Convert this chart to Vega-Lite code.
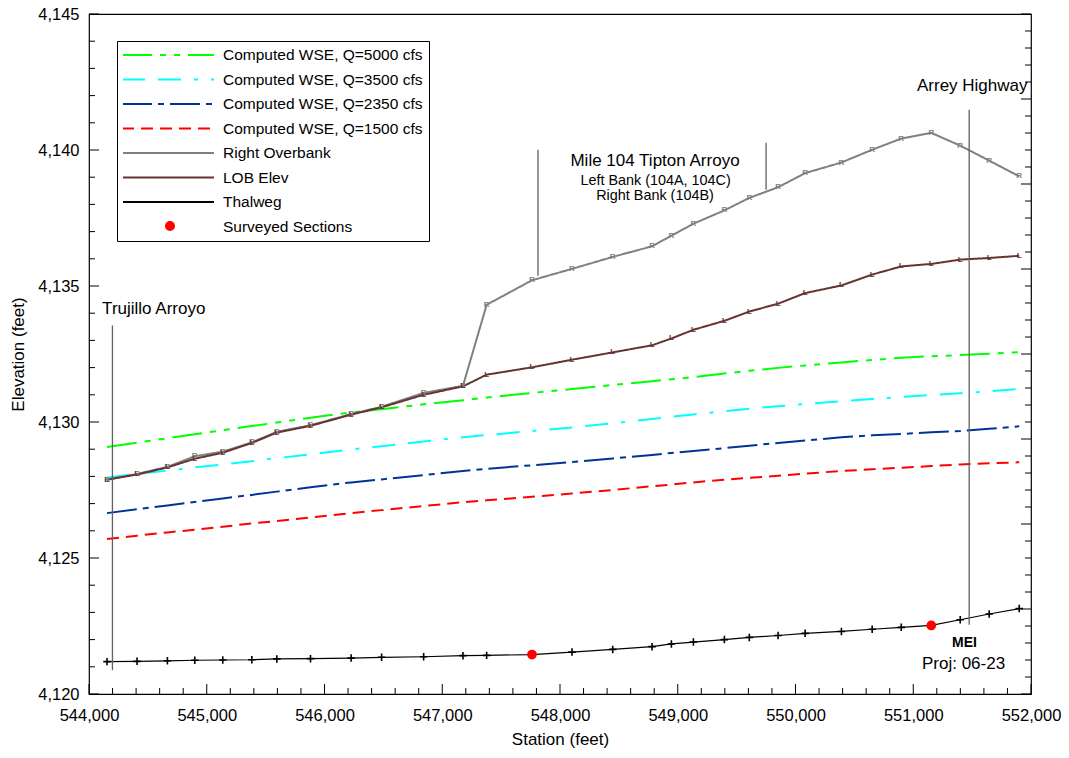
{
  "$schema": "https://vega.github.io/schema/vega-lite/v6.json",
  "width": 942,
  "height": 680,
  "autosize": "none",
  "padding": {"left": 89, "top": 14, "right": 38, "bottom": 64},
  "background": "white",
  "config": {
    "view": {"stroke": "black", "strokeWidth": 1.2},
    "font": "Liberation Sans",
    "axis": {
      "labelFont": "Liberation Sans", "labelFontSize": 16.5, "labelColor": "black",
      "titleFont": "Liberation Sans", "titleFontSize": 17, "titleFontWeight": "normal", "titleColor": "black",
      "domainColor": "black", "grid": false,
      "labelFlush": false, "labelOverlap": false
    }
  },
  "datasets": {
    "stations": [
      {"station": 544153, "q5000": 4129.08, "q3500": 4127.96, "q2350": 4126.65, "q1500": 4125.70, "rob": 4127.88, "lob": 4127.88, "thalweg": 4121.19},
      {"station": 544408, "q5000": 4129.24, "q3500": 4128.09, "q2350": 4126.79, "q1500": 4125.82, "rob": 4128.09, "lob": 4128.07, "thalweg": 4121.20},
      {"station": 544666, "q5000": 4129.40, "q3500": 4128.21, "q2350": 4126.93, "q1500": 4125.94, "rob": 4128.35, "lob": 4128.33, "thalweg": 4121.22},
      {"station": 544898, "q5000": 4129.55, "q3500": 4128.33, "q2350": 4127.06, "q1500": 4126.04, "rob": 4128.74, "lob": 4128.65, "thalweg": 4121.24},
      {"station": 545136, "q5000": 4129.70, "q3500": 4128.44, "q2350": 4127.19, "q1500": 4126.15, "rob": 4128.91, "lob": 4128.87, "thalweg": 4121.25},
      {"station": 545383, "q5000": 4129.85, "q3500": 4128.56, "q2350": 4127.32, "q1500": 4126.27, "rob": 4129.25, "lob": 4129.23, "thalweg": 4121.26},
      {"station": 545595, "q5000": 4129.98, "q3500": 4128.67, "q2350": 4127.44, "q1500": 4126.36, "rob": 4129.64, "lob": 4129.61, "thalweg": 4121.29},
      {"station": 545881, "q5000": 4130.16, "q3500": 4128.81, "q2350": 4127.60, "q1500": 4126.49, "rob": 4129.88, "lob": 4129.86, "thalweg": 4121.30},
      {"station": 546226, "q5000": 4130.35, "q3500": 4128.99, "q2350": 4127.78, "q1500": 4126.65, "rob": 4130.29, "lob": 4130.27, "thalweg": 4121.32},
      {"station": 546485, "q5000": 4130.47, "q3500": 4129.11, "q2350": 4127.89, "q1500": 4126.76, "rob": 4130.56, "lob": 4130.54, "thalweg": 4121.35},
      {"station": 546842, "q5000": 4130.65, "q3500": 4129.28, "q2350": 4128.05, "q1500": 4126.91, "rob": 4131.07, "lob": 4131.00, "thalweg": 4121.37},
      {"station": 547176, "q5000": 4130.80, "q3500": 4129.44, "q2350": 4128.20, "q1500": 4127.05, "rob": 4131.33, "lob": 4131.31, "thalweg": 4121.41},
      {"station": 547377, "q5000": 4130.90, "q3500": 4129.52, "q2350": 4128.28, "q1500": 4127.12, "rob": 4134.31, "lob": 4131.74, "thalweg": 4121.42},
      {"station": 547762, "q5000": 4131.07, "q3500": 4129.67, "q2350": 4128.41, "q1500": 4127.25, "rob": 4135.21, "lob": 4132.01, "thalweg": 4121.45},
      {"station": 548102, "q5000": 4131.21, "q3500": 4129.80, "q2350": 4128.53, "q1500": 4127.37, "rob": 4135.63, "lob": 4132.29, "thalweg": 4121.54},
      {"station": 548448, "q5000": 4131.36, "q3500": 4129.95, "q2350": 4128.66, "q1500": 4127.50, "rob": 4136.07, "lob": 4132.56, "thalweg": 4121.64},
      {"station": 548782, "q5000": 4131.50, "q3500": 4130.11, "q2350": 4128.79, "q1500": 4127.64, "rob": 4136.46, "lob": 4132.82, "thalweg": 4121.74},
      {"station": 548946, "q5000": 4131.57, "q3500": 4130.19, "q2350": 4128.86, "q1500": 4127.70, "rob": 4136.85, "lob": 4133.07, "thalweg": 4121.84},
      {"station": 549133, "q5000": 4131.65, "q3500": 4130.28, "q2350": 4128.93, "q1500": 4127.78, "rob": 4137.29, "lob": 4133.39, "thalweg": 4121.91},
      {"station": 549396, "q5000": 4131.78, "q3500": 4130.40, "q2350": 4129.04, "q1500": 4127.88, "rob": 4137.78, "lob": 4133.72, "thalweg": 4122.00},
      {"station": 549608, "q5000": 4131.88, "q3500": 4130.49, "q2350": 4129.13, "q1500": 4127.95, "rob": 4138.24, "lob": 4134.06, "thalweg": 4122.08},
      {"station": 549852, "q5000": 4131.99, "q3500": 4130.58, "q2350": 4129.23, "q1500": 4128.02, "rob": 4138.63, "lob": 4134.35, "thalweg": 4122.15},
      {"station": 550082, "q5000": 4132.08, "q3500": 4130.66, "q2350": 4129.32, "q1500": 4128.10, "rob": 4139.15, "lob": 4134.74, "thalweg": 4122.23},
      {"station": 550390, "q5000": 4132.19, "q3500": 4130.76, "q2350": 4129.44, "q1500": 4128.20, "rob": 4139.54, "lob": 4135.02, "thalweg": 4122.30},
      {"station": 550651, "q5000": 4132.28, "q3500": 4130.85, "q2350": 4129.51, "q1500": 4128.26, "rob": 4140.01, "lob": 4135.42, "thalweg": 4122.38},
      {"station": 550898, "q5000": 4132.36, "q3500": 4130.92, "q2350": 4129.56, "q1500": 4128.32, "rob": 4140.42, "lob": 4135.72, "thalweg": 4122.45},
      {"station": 551153, "q5000": 4132.42, "q3500": 4130.99, "q2350": 4129.62, "q1500": 4128.38, "rob": 4140.63, "lob": 4135.81, "thalweg": 4122.52},
      {"station": 551399, "q5000": 4132.46, "q3500": 4131.06, "q2350": 4129.67, "q1500": 4128.44, "rob": 4140.16, "lob": 4135.97, "thalweg": 4122.73},
      {"station": 551645, "q5000": 4132.51, "q3500": 4131.13, "q2350": 4129.75, "q1500": 4128.48, "rob": 4139.61, "lob": 4136.03, "thalweg": 4122.94},
      {"station": 551900, "q5000": 4132.57, "q3500": 4131.21, "q2350": 4129.84, "q1500": 4128.52, "rob": 4139.03, "lob": 4136.11, "thalweg": 4123.14}
    ],
    "surveyed": [
      {"station": 547762, "elev": 4121.45, "kind": "surveyed"},
      {"station": 551153, "elev": 4122.52, "kind": "surveyed"}
    ],
    "callouts": [
      {"station": 544199, "top": 4133.55, "bottom": 4120.87},
      {"station": 547813, "top": 4140.01, "bottom": 4135.38},
      {"station": 549750, "top": 4140.27, "bottom": 4138.54},
      {"station": 551475, "top": 4141.48, "bottom": 4122.55}
    ],
    "notesLarge": [
      {"station": 544550, "elev": 4134.17, "note": "Trujillo Arroyo"},
      {"station": 548807, "elev": 4139.61, "note": "Mile 104 Tipton Arroyo"},
      {"station": 551501, "elev": 4142.36, "note": "Arrey Highway"},
      {"station": 551427, "elev": 4121.11, "note": "Proj: 06-23"}
    ],
    "notesSmall": [
      {"station": 548812, "elev": 4138.87, "note": "Left Bank (104A, 104C)"},
      {"station": 548807, "elev": 4138.30, "note": "Right Bank (104B)"}
    ],
    "logo": [
      {"station": 551435, "elev": 4121.88, "note": "MEI"}
    ],
    "leftMajorTicks": [{"v": 4120}, {"v": 4125}, {"v": 4130}, {"v": 4135}, {"v": 4140}, {"v": 4145}],
    "leftMinorTicks": [{"v": 4121}, {"v": 4122}, {"v": 4123}, {"v": 4124}, {"v": 4126}, {"v": 4127}, {"v": 4128}, {"v": 4129}, {"v": 4131}, {"v": 4132}, {"v": 4133}, {"v": 4134}, {"v": 4136}, {"v": 4137}, {"v": 4138}, {"v": 4139}, {"v": 4141}, {"v": 4142}, {"v": 4143}, {"v": 4144}],
    "rightMajorTicks": [{"v": 4120}, {"v": 4123.125}, {"v": 4126.25}, {"v": 4129.375}, {"v": 4132.5}, {"v": 4135.625}, {"v": 4138.75}, {"v": 4141.875}, {"v": 4145}],
    "rightMinorTicks": [{"v": 4120.625}, {"v": 4121.25}, {"v": 4121.875}, {"v": 4122.5}, {"v": 4123.75}, {"v": 4124.375}, {"v": 4125}, {"v": 4125.625}, {"v": 4126.875}, {"v": 4127.5}, {"v": 4128.125}, {"v": 4128.75}, {"v": 4130}, {"v": 4130.625}, {"v": 4131.25}, {"v": 4131.875}, {"v": 4133.125}, {"v": 4133.75}, {"v": 4134.375}, {"v": 4135}, {"v": 4136.25}, {"v": 4136.875}, {"v": 4137.5}, {"v": 4138.125}, {"v": 4139.375}, {"v": 4140}, {"v": 4140.625}, {"v": 4141.25}, {"v": 4142.5}, {"v": 4143.125}, {"v": 4143.75}, {"v": 4144.375}],
    "bottomMajorTicks": [{"v": 544000}, {"v": 545000}, {"v": 546000}, {"v": 547000}, {"v": 548000}, {"v": 549000}, {"v": 550000}, {"v": 551000}, {"v": 552000}],
    "bottomMinorTicks": [{"v": 544200}, {"v": 544400}, {"v": 544600}, {"v": 544800}, {"v": 545200}, {"v": 545400}, {"v": 545600}, {"v": 545800}, {"v": 546200}, {"v": 546400}, {"v": 546600}, {"v": 546800}, {"v": 547200}, {"v": 547400}, {"v": 547600}, {"v": 547800}, {"v": 548200}, {"v": 548400}, {"v": 548600}, {"v": 548800}, {"v": 549200}, {"v": 549400}, {"v": 549600}, {"v": 549800}, {"v": 550200}, {"v": 550400}, {"v": 550600}, {"v": 550800}, {"v": 551200}, {"v": 551400}, {"v": 551600}, {"v": 551800}]
  },
  "resolve": {"axis": {"x": "independent", "y": "independent"}},
  "layer": [
    {
      "data": {"name": "stations"},
      "transform": [{"fold": ["q5000", "q3500", "q2350", "q1500", "rob", "lob"], "as": ["series", "elev"]}],
      "mark": {"type": "line", "strokeWidth": 2},
      "encoding": {
        "x": {"field": "station", "type": "quantitative", "scale": {"domain": [544000, 552000], "nice": false, "zero": false},
          "axis": {"orient": "bottom", "values": [544000, 545000, 546000, 547000, 548000, 549000, 550000, 551000, 552000], "format": ",d", "ticks": false, "domain": false, "labelPadding": 13, "title": "Station (feet)", "titlePadding": 8}},
        "y": {"field": "elev", "type": "quantitative", "scale": {"domain": [4120, 4145], "nice": false, "zero": false},
          "axis": {"orient": "left", "values": [4120, 4125, 4130, 4135, 4140, 4145], "format": ",d", "ticks": false, "domain": false, "labelPadding": 10, "title": "Elevation (feet)", "titlePadding": 10}},
        "color": {"field": "series", "type": "nominal",
          "scale": {"domain": ["q5000", "q3500", "q2350", "q1500", "rob", "lob", "thalweg", "surveyed"],
                    "range": ["#00ff00", "#00ffff", "#003399", "#ff0000", "#808080", "#663333", "#000000", "#ff0000"]},
          "legend": {
            "title": null, "orient": "none", "legendX": 28, "legendY": 27, "direction": "vertical", "columns": 1,
            "symbolType": "stroke", "symbolSize": 8464, "symbolStrokeWidth": 2, "symbolOffset": -2,
            "labelOffset": 8, "labelFont": "Liberation Sans", "labelFontSize": 15.5, "labelColor": "black", "labelLimit": 400,
            "clipHeight": 16, "rowPadding": 7.5, "padding": 6, "strokeColor": "black", "fillColor": "white", "cornerRadius": 0,
            "labelExpr": "{'q5000':'Computed WSE, Q=5000 cfs','q3500':'Computed WSE, Q=3500 cfs','q2350':'Computed WSE, Q=2350 cfs','q1500':'Computed WSE, Q=1500 cfs','rob':'Right Overbank','lob':'LOB Elev','thalweg':'Thalweg','surveyed':'Surveyed Sections'}[datum.label]"
          }},
        "strokeDash": {"field": "series", "type": "nominal",
          "scale": {"domain": ["q5000", "q3500", "q2350", "q1500", "rob", "lob", "thalweg", "surveyed"],
                    "range": [[30, 8, 6, 8, 6, 8], [23, 13, 23, 13, 4, 13], [30, 6, 6, 6], [12, 7], [1, 0], [1, 0], [1, 0], [0, 1000]]},
          "legend": {
            "title": null, "orient": "none", "legendX": 28, "legendY": 27, "direction": "vertical", "columns": 1,
            "symbolType": "stroke", "symbolSize": 8464, "symbolStrokeWidth": 2, "symbolOffset": -2,
            "labelOffset": 8, "labelFont": "Liberation Sans", "labelFontSize": 15.5, "labelColor": "black", "labelLimit": 400,
            "clipHeight": 16, "rowPadding": 7.5, "padding": 6, "strokeColor": "black", "fillColor": "white", "cornerRadius": 0,
            "labelExpr": "{'q5000':'Computed WSE, Q=5000 cfs','q3500':'Computed WSE, Q=3500 cfs','q2350':'Computed WSE, Q=2350 cfs','q1500':'Computed WSE, Q=1500 cfs','rob':'Right Overbank','lob':'LOB Elev','thalweg':'Thalweg','surveyed':'Surveyed Sections'}[datum.label]"
          }}
      }
    },
    {
      "data": {"name": "stations"},
      "mark": {"type": "line", "stroke": "black", "strokeWidth": 1.2},
      "encoding": {
        "x": {"field": "station", "type": "quantitative", "scale": {"domain": [544000, 552000], "nice": false, "zero": false}, "axis": null},
        "y": {"field": "thalweg", "type": "quantitative", "scale": {"domain": [4120, 4145], "nice": false, "zero": false}, "axis": null}
      }
    },
    {
      "data": {"name": "stations"},
      "mark": {"type": "point", "shape": "M-1,0H1M0,-1V1", "size": 56, "filled": false, "stroke": "black", "strokeWidth": 1.6, "opacity": 1},
      "encoding": {
        "x": {"field": "station", "type": "quantitative", "scale": {"domain": [544000, 552000], "nice": false, "zero": false}, "axis": null},
        "y": {"field": "thalweg", "type": "quantitative", "scale": {"domain": [4120, 4145], "nice": false, "zero": false}, "axis": null}
      }
    },
    {
      "data": {"name": "stations"},
      "mark": {"type": "text", "text": "R", "fontSize": 8, "fontWeight": "bold", "fill": "#808080", "align": "center", "baseline": "middle"},
      "encoding": {
        "x": {"field": "station", "type": "quantitative", "scale": {"domain": [544000, 552000], "nice": false, "zero": false}, "axis": null},
        "y": {"field": "rob", "type": "quantitative", "scale": {"domain": [4120, 4145], "nice": false, "zero": false}, "axis": null}
      }
    },
    {
      "data": {"name": "stations"},
      "mark": {"type": "text", "text": "L", "fontSize": 8, "fontWeight": "bold", "fill": "#663333", "align": "center", "baseline": "middle"},
      "encoding": {
        "x": {"field": "station", "type": "quantitative", "scale": {"domain": [544000, 552000], "nice": false, "zero": false}, "axis": null},
        "y": {"field": "lob", "type": "quantitative", "scale": {"domain": [4120, 4145], "nice": false, "zero": false}, "axis": null}
      }
    },
    {
      "data": {"name": "surveyed"},
      "mark": {"type": "point", "filled": true, "size": 95, "color": "#ff0000", "opacity": 1},
      "encoding": {
        "x": {"field": "station", "type": "quantitative", "scale": {"domain": [544000, 552000], "nice": false, "zero": false}, "axis": null},
        "y": {"field": "elev", "type": "quantitative", "scale": {"domain": [4120, 4145], "nice": false, "zero": false}, "axis": null},
        "shape": {"field": "kind", "type": "nominal", "scale": {"domain": ["surveyed"], "range": ["circle"]},
          "legend": {"title": null, "orient": "none", "legendX": 76, "legendY": 207, "padding": 0, "symbolSize": 100, "symbolStrokeWidth": 0,
            "symbolFillColor": "#ff0000", "symbolStrokeColor": "#ff0000", "labelFontSize": 10, "labelExpr": "''", "strokeColor": null, "fillColor": null}}
      }
    },
    {
      "data": {"name": "callouts"},
      "mark": {"type": "rule", "color": "#606060", "strokeWidth": 1.3},
      "encoding": {
        "x": {"field": "station", "type": "quantitative", "scale": {"domain": [544000, 552000], "nice": false, "zero": false}, "axis": null},
        "y": {"field": "top", "type": "quantitative", "scale": {"domain": [4120, 4145], "nice": false, "zero": false}, "axis": null},
        "y2": {"field": "bottom"}
      }
    },
    {
      "data": {"name": "leftMajorTicks"},
      "mark": {"type": "rule", "color": "black", "strokeWidth": 1, "strokeDash": [10, 2000]},
      "encoding": {
        "x": {"datum": 544000, "type": "quantitative", "scale": {"domain": [544000, 552000], "nice": false, "zero": false}, "axis": null},
        "x2": {"datum": 552000},
        "y": {"field": "v", "type": "quantitative", "scale": {"domain": [4120, 4145], "nice": false, "zero": false}, "axis": null}
      }
    },
    {
      "data": {"name": "leftMinorTicks"},
      "mark": {"type": "rule", "color": "black", "strokeWidth": 1, "strokeDash": [6, 2000]},
      "encoding": {
        "x": {"datum": 544000, "type": "quantitative", "scale": {"domain": [544000, 552000], "nice": false, "zero": false}, "axis": null},
        "x2": {"datum": 552000},
        "y": {"field": "v", "type": "quantitative", "scale": {"domain": [4120, 4145], "nice": false, "zero": false}, "axis": null}
      }
    },
    {
      "data": {"name": "rightMajorTicks"},
      "mark": {"type": "rule", "color": "black", "strokeWidth": 1, "strokeDash": [0, 932, 10, 2000]},
      "encoding": {
        "x": {"datum": 544000, "type": "quantitative", "scale": {"domain": [544000, 552000], "nice": false, "zero": false}, "axis": null},
        "x2": {"datum": 552000},
        "y": {"field": "v", "type": "quantitative", "scale": {"domain": [4120, 4145], "nice": false, "zero": false}, "axis": null}
      }
    },
    {
      "data": {"name": "rightMinorTicks"},
      "mark": {"type": "rule", "color": "black", "strokeWidth": 1, "strokeDash": [0, 936, 6, 2000]},
      "encoding": {
        "x": {"datum": 544000, "type": "quantitative", "scale": {"domain": [544000, 552000], "nice": false, "zero": false}, "axis": null},
        "x2": {"datum": 552000},
        "y": {"field": "v", "type": "quantitative", "scale": {"domain": [4120, 4145], "nice": false, "zero": false}, "axis": null}
      }
    },
    {
      "data": {"name": "bottomMajorTicks"},
      "mark": {"type": "rule", "color": "black", "strokeWidth": 1, "strokeDash": [10, 2000]},
      "encoding": {
        "x": {"field": "v", "type": "quantitative", "scale": {"domain": [544000, 552000], "nice": false, "zero": false}, "axis": null},
        "y": {"datum": 4120, "type": "quantitative", "scale": {"domain": [4120, 4145], "nice": false, "zero": false}, "axis": null},
        "y2": {"datum": 4145}
      }
    },
    {
      "data": {"name": "bottomMinorTicks"},
      "mark": {"type": "rule", "color": "black", "strokeWidth": 1, "strokeDash": [6, 2000]},
      "encoding": {
        "x": {"field": "v", "type": "quantitative", "scale": {"domain": [544000, 552000], "nice": false, "zero": false}, "axis": null},
        "y": {"datum": 4120, "type": "quantitative", "scale": {"domain": [4120, 4145], "nice": false, "zero": false}, "axis": null},
        "y2": {"datum": 4145}
      }
    },
    {
      "data": {"name": "notesLarge"},
      "mark": {"type": "text", "font": "Liberation Sans", "fontSize": 17, "color": "black", "align": "center", "baseline": "middle"},
      "encoding": {
        "x": {"field": "station", "type": "quantitative", "scale": {"domain": [544000, 552000], "nice": false, "zero": false}, "axis": null},
        "y": {"field": "elev", "type": "quantitative", "scale": {"domain": [4120, 4145], "nice": false, "zero": false}, "axis": null},
        "text": {"field": "note", "type": "nominal"}
      }
    },
    {
      "data": {"name": "notesSmall"},
      "mark": {"type": "text", "font": "Liberation Sans", "fontSize": 14.4, "color": "black", "align": "center", "baseline": "middle"},
      "encoding": {
        "x": {"field": "station", "type": "quantitative", "scale": {"domain": [544000, 552000], "nice": false, "zero": false}, "axis": null},
        "y": {"field": "elev", "type": "quantitative", "scale": {"domain": [4120, 4145], "nice": false, "zero": false}, "axis": null},
        "text": {"field": "note", "type": "nominal"}
      }
    },
    {
      "data": {"name": "logo"},
      "mark": {"type": "text", "font": "Liberation Sans", "fontSize": 14, "fontWeight": "bold", "color": "black", "align": "center", "baseline": "middle"},
      "encoding": {
        "x": {"field": "station", "type": "quantitative", "scale": {"domain": [544000, 552000], "nice": false, "zero": false}, "axis": null},
        "y": {"field": "elev", "type": "quantitative", "scale": {"domain": [4120, 4145], "nice": false, "zero": false}, "axis": null},
        "text": {"field": "note", "type": "nominal"}
      }
    }
  ]
}
